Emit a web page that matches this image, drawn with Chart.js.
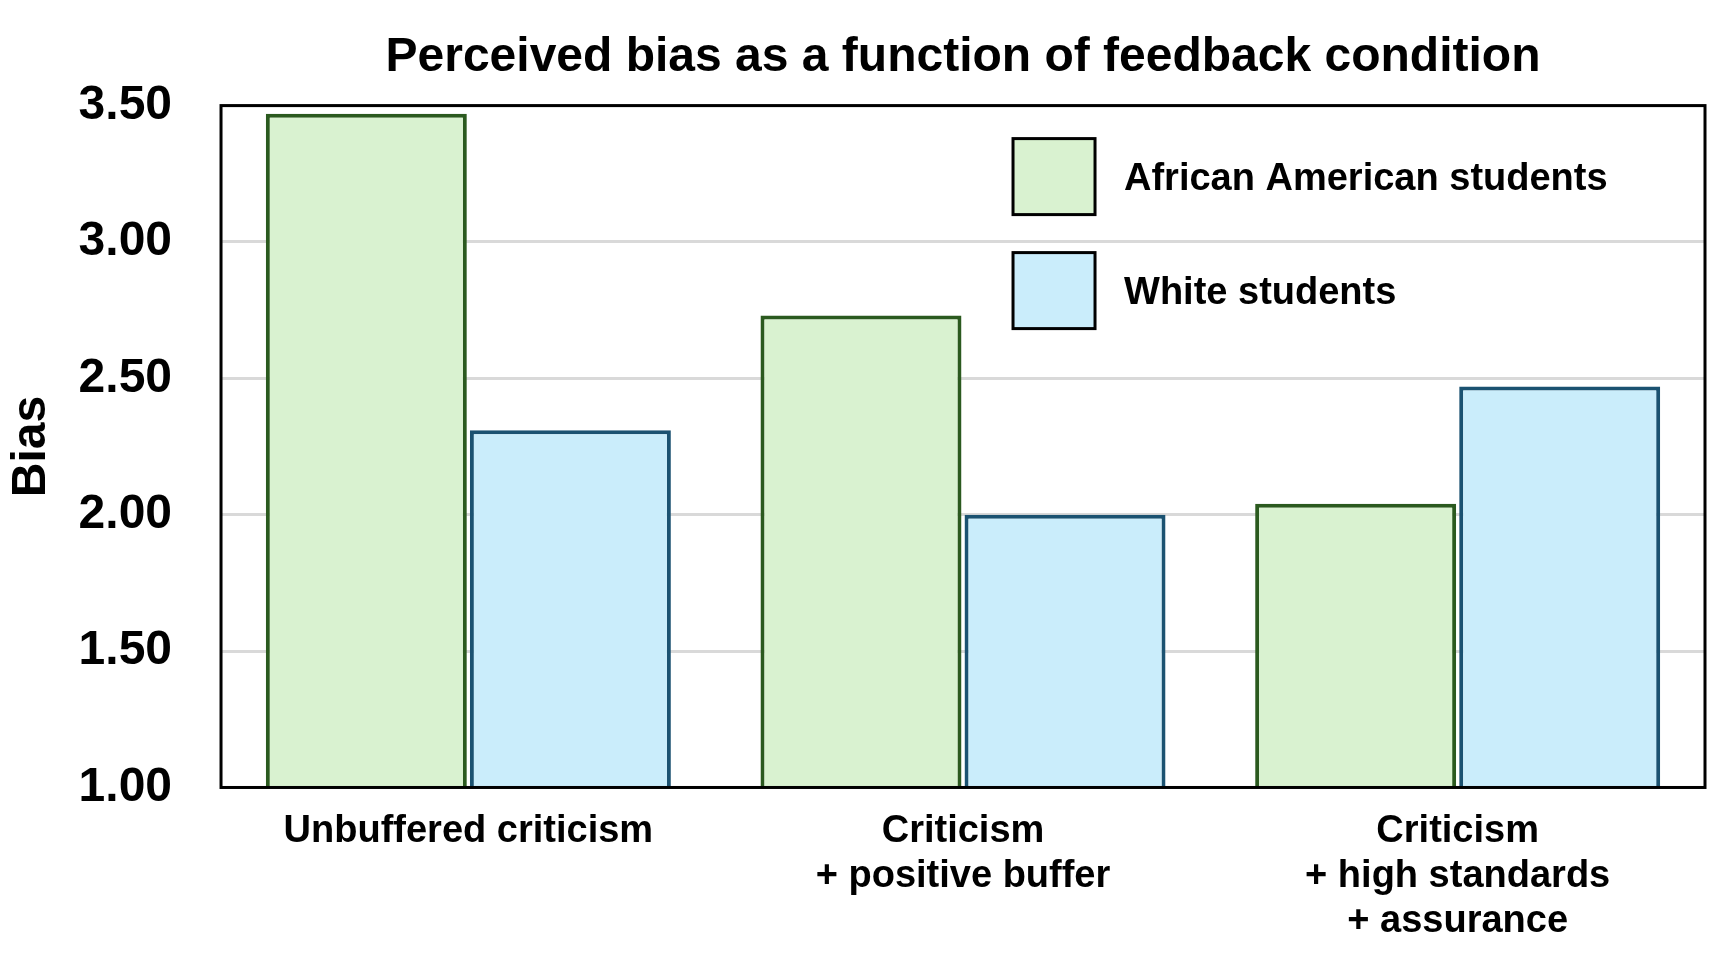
<!DOCTYPE html>
<html>
<head>
<meta charset="utf-8">
<script src="https://cdn.jsdelivr.net/npm/chart.js@4/dist/chart.umd.min.js"></script>
<style>
  html, body { margin: 0; padding: 0; background: #fff; }
  #wrap { width: 1710px; height: 958px; }
</style>
</head>
<body>
<div id="wrap"><canvas id="biasChart"></canvas></div>
<script>
const conditions = [
    "Unbuffered criticism",
    ["Criticism", "+ positive buffer"],
    ["Criticism", "+ high standards", "+ assurance"],
];
const africanAmerican = [3.47, 2.73, 2.04];
const white = [2.31, 2.00, 2.47];
const yTickLabels = ["1.00", "1.50", "2.00", "2.50", "3.00", "3.50"];

const FONT = "'Liberation Sans', Arial, sans-serif";

// frame round the plot area, like the original
const frame = {
    id: "frame",
    afterDatasetsDraw(chart) {
        const { ctx, chartArea: a } = chart;
        ctx.save();
        ctx.strokeStyle = "#000";
        ctx.lineWidth = 3;
        ctx.strokeRect(a.left, a.top, a.right - a.left, a.bottom - a.top);
        ctx.restore();
    },
};

// legend sits inside the plot, top right
const innerLegend = {
    id: "innerLegend",
    afterDraw(chart) {
        const { ctx, chartArea: a } = chart;
        const x = a.left + 792;
        let y = a.top + 33;
        ctx.save();
        ctx.font = "bold 38px " + FONT;
        ctx.textBaseline = "middle";
        chart.data.datasets.forEach((ds) => {
            ctx.fillStyle = ds.backgroundColor;
            ctx.fillRect(x, y, 82, 76);
            ctx.strokeStyle = "#000";
            ctx.lineWidth = 3;
            ctx.strokeRect(x, y, 82, 76);
            ctx.fillStyle = "#000";
            ctx.fillText(ds.label, x + 111, y + 41);
            y += 114;
        });
        ctx.restore();
    },
};

new Chart(document.getElementById("biasChart"), {
    type: "bar",
    data: {
        labels: conditions,
        datasets: [
            {
                label: "African American students",
                data: africanAmerican,
                backgroundColor: "#d9f2d0",
                borderColor: "#2b5a1f",
                borderWidth: 4,
            },
            {
                label: "White students",
                data: white,
                backgroundColor: "#caedfb",
                borderColor: "#1b5271",
                borderWidth: 4,
            },
        ],
    },
    options: {
        responsive: true,
        maintainAspectRatio: false,
        animation: false,
        layout: { padding: { left: 0, right: 5, top: 0, bottom: 0 } },
        datasets: {
            bar: { categoryPercentage: 0.825, barPercentage: 0.985 },
        },
        scales: {
            x: {
                grid: { display: false },
                border: { display: false },
                ticks: {
                    color: "#000",
                    font: { family: FONT, size: 38, weight: "bold", lineHeight: 1.18 },
                    padding: 14,
                    maxRotation: 0,
                    autoSkip: false,
                },
            },
            y: {
                min: 1,
                max: 3.5,
                border: { display: false },
                grid: { color: "#d9d9d9", lineWidth: 3, drawTicks: false },
                ticks: {
                    stepSize: 0.5,
                    color: "#000",
                    font: { family: FONT, size: 48, weight: "bold", lineHeight: 1.0 },
                    padding: 49,
                    callback: (v, i) => yTickLabels[i],
                },
                title: {
                    display: true,
                    text: "Bias",
                    color: "#000",
                    font: { family: FONT, size: 48, weight: "bold", lineHeight: 1.2 },
                    padding: { top: 3, bottom: 18 },
                },
                // the scale counts tick padding on both sides of the labels
                afterFit(scale) {
                    scale.width -= scale.options.ticks.padding;
                },
            },
        },
        plugins: {
            legend: { display: false },
            tooltip: { enabled: false },
            title: {
                display: true,
                fullSize: false,
                text: "Perceived bias as a function of feedback condition",
                color: "#000",
                font: { family: FONT, size: 48, weight: "bold", lineHeight: 1.2 },
                padding: { top: 29, bottom: 19 },
            },
        },
    },
    plugins: [frame, innerLegend],
});
</script>
</body>
</html>
